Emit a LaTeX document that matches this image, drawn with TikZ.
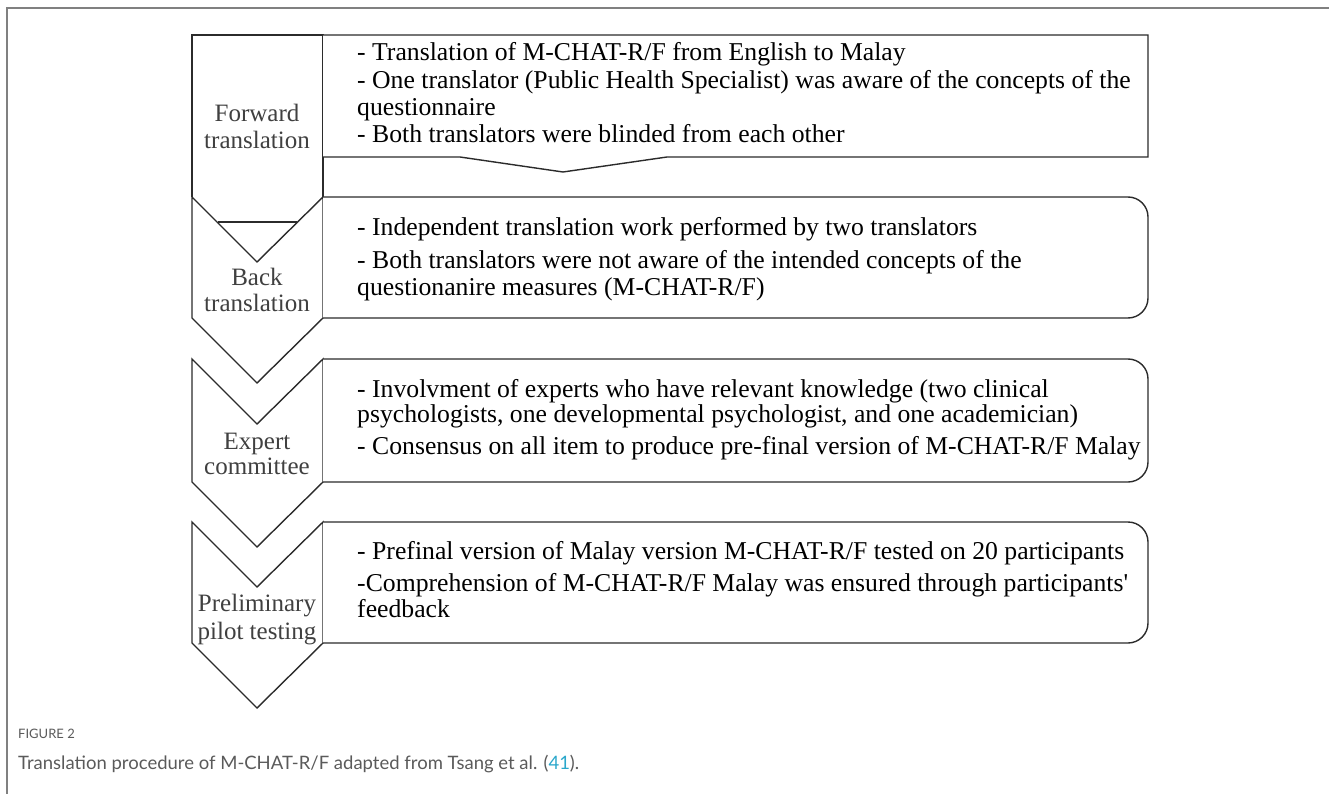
\documentclass[tikz,border=0pt]{standalone}
\usepackage{fontspec}
\setmainfont{Liberation Serif}
\newfontfamily\capfont{Lato}
\definecolor{linec}{HTML}{2B2B2B}
\definecolor{labc}{HTML}{404040}
\definecolor{capc}{HTML}{5A5A5A}
\definecolor{refc}{HTML}{2AA7CB}
\definecolor{framec}{HTML}{808080}
\tikzset{
  shp/.style={draw=linec, line width=1.4pt, fill=white, line join=miter},
  boxtxt/.style={anchor=base west, inner sep=0pt, font=\fontsize{25.7}{28}\selectfont, text=black},
  lab/.style={anchor=base, inner sep=0pt, font=\fontsize{25}{28}\selectfont, text=labc},
  capt/.style={anchor=base west, inner sep=0pt, text=capc}
}
\begin{document}
\begin{tikzpicture}[x=1pt,y=-1pt]
\useasboundingbox (0,0) rectangle (1329,794);
% outer frame (top and left)
\draw[framec, line width=1.2pt] (7,794) -- (7,8) -- (1329,8);

% Forward chevron (top flat)
\draw[shp] (192,197) -- (192,35) -- (323,35) -- (323,197);
% Forward box
\draw[shp] (323,35) -- (1148,35) -- (1148,157) -- (667,157) -- (563,172) -- (460,157) -- (323,157);

% Back chevron
\draw[shp] (192,197) -- (257,262) -- (323,197) -- (323,318) -- (257,383) -- (192,318) -- cycle;
\draw[linec, line width=1.4pt] (218,222) -- (297,222);
% Back box
\draw[shp] (323,197) -- (1128,197) arc[start angle=-90,end angle=0,radius=20] -- (1148,298) arc[start angle=0,end angle=90,radius=20] -- (323,318);

% Expert chevron and box
\draw[shp] (192,359) -- (257,424) -- (323,359) -- (323,482) -- (257,547) -- (192,482) -- cycle;
\draw[shp] (323,359) -- (1128,359) arc[start angle=-90,end angle=0,radius=20] -- (1148,462) arc[start angle=0,end angle=90,radius=20] -- (323,482);

% Pilot chevron and box
\draw[shp] (192,522) -- (257,587) -- (323,522) -- (323,643) -- (257,708) -- (192,643) -- cycle;
\draw[shp] (323,522) -- (1128,522) arc[start angle=-90,end angle=0,radius=20] -- (1148,623) arc[start angle=0,end angle=90,radius=20] -- (323,643);

% chevron labels
\node[lab] (l1a) at (257,122) {Forward};
\node[lab] (l1b) at (257,149) {translation};
\node[lab] (l2a) at (257,285) {Back};
\node[lab] (l2b) at (257,311) {translation};
\node[lab] (l3a) at (257,449) {Expert};
\node[lab] (l3b) at (257,474) {committee};
\node[lab] (l4a) at (257,611) {Preliminary};
\node[lab] (l4b) at (257,639) {pilot testing};

% box texts
\node[boxtxt] (f1) at (357,61) {- Translation of M-CHAT-R/F from English to Malay};
\node[boxtxt] (f2) at (357,89) {- One translator (Public Health Specialist) was aware of the concepts of the};
\node[boxtxt] (f3) at (357,116) {questionnaire};
\node[boxtxt] (f4) at (357,143) {- Both translators were blinded from each other};

\node[boxtxt] (b1) at (357,236) {- Independent translation work performed by two translators};
\node[boxtxt] (b2) at (357,269) {- Both translators were not aware of the intended concepts of the};
\node[boxtxt] (b3) at (357,295) {questionanire measures (M-CHAT-R/F)};

\node[boxtxt] (e1) at (357,397) {- Involvment of experts who have relevant knowledge (two clinical};
\node[boxtxt] (e2) at (357,422) {psychologists, one developmental psychologist, and one academician)};
\node[boxtxt] (e3) at (357,454) {- Consensus on all item to produce pre-final version of M-CHAT-R/F Malay};

\node[boxtxt] (p1) at (357,559) {- Prefinal version of Malay version M-CHAT-R/F tested on 20 participants};
\node[boxtxt] (p2) at (357,591) {-Comprehension of M-CHAT-R/F Malay was ensured through participants\textquotesingle};
\node[boxtxt] (p3) at (357,617) {feedback};

% caption
\node[capt, font=\capfont\fontsize{13}{15}\selectfont] (cap1) at (18,738) {FIGURE 2};
\node[capt, font=\capfont\fontsize{18.5}{21}\selectfont] (cap2) at (18,769) {Translation procedure of M-CHAT-R/F adapted from Tsang et al. (\textcolor{refc}{41}).};
\end{tikzpicture}
\end{document}
